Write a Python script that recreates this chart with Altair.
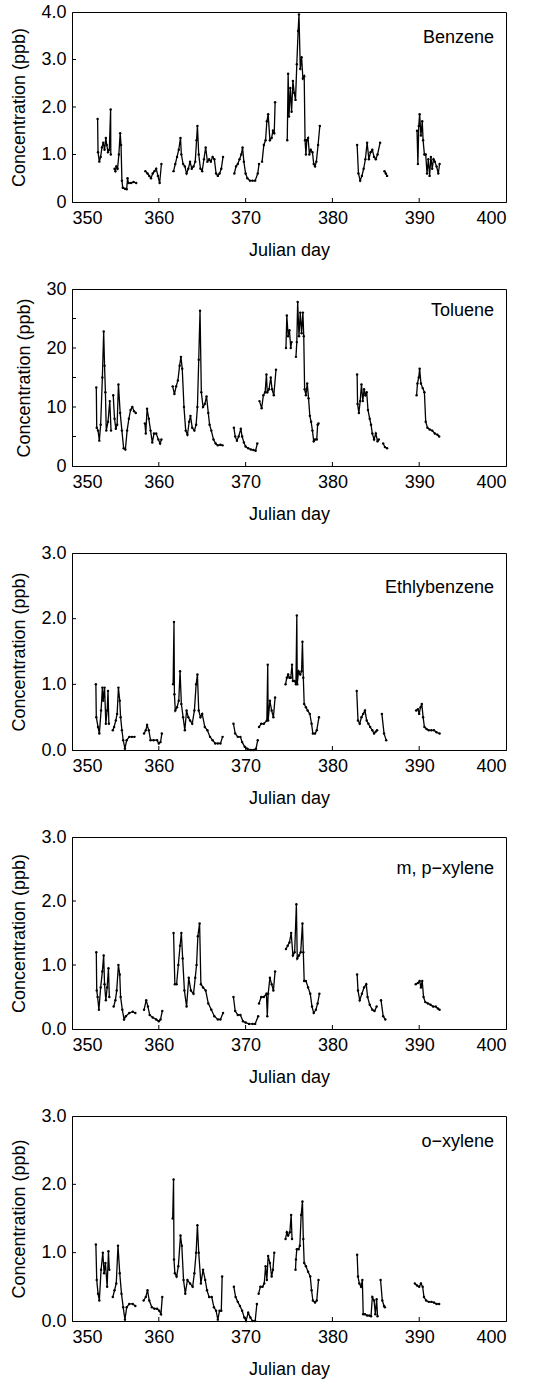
import altair as alt
import pandas as pd

# ---------------- data ----------------
x_ticks = [350, 360, 370, 380, 390, 400]

benzene = [
    [(352.95, 1.75), (353.0, 1.05), (353.15, 0.85), (353.3, 0.95), (353.45, 1.15), (353.6, 1.25),
     (353.75, 1.1), (353.9, 1.35), (354.0, 1.2), (354.15, 1.05), (354.3, 1.1), (354.45, 1.95), (354.47, 1.0)],
    [(354.9, 0.7), (355.0, 0.65), (355.1, 0.75), (355.25, 0.7), (355.4, 1.0), (355.55, 1.45), (355.65, 1.2),
     (355.75, 0.45), (355.85, 0.3), (356.1, 0.28), (356.3, 0.27), (356.4, 0.5), (356.5, 0.4), (356.8, 0.4),
     (357.1, 0.42), (357.4, 0.4)],
    [(358.45, 0.65), (358.7, 0.6), (358.9, 0.55), (359.1, 0.5), (359.3, 0.6), (359.5, 0.65), (359.7, 0.7),
     (359.9, 0.55), (360.1, 0.4), (360.3, 0.8)],
    [(361.7, 0.65), (361.9, 0.8), (362.1, 0.95), (362.3, 1.1), (362.5, 1.35), (362.6, 1.0), (362.8, 0.8),
     (363.0, 0.75), (363.2, 0.6), (363.4, 0.7), (363.6, 0.85), (363.8, 0.7), (364.0, 0.75), (364.2, 0.85),
     (364.35, 1.3), (364.45, 1.6), (364.6, 1.0), (364.8, 0.7), (365.0, 0.65), (365.2, 0.9), (365.4, 1.15),
     (365.6, 0.85), (365.8, 0.9), (366.0, 0.85), (366.2, 0.95), (366.4, 0.9), (366.6, 0.6), (366.8, 0.55),
     (367.0, 0.6), (367.2, 0.7), (367.4, 0.95)],
    [(368.7, 0.6), (368.9, 0.75), (369.1, 0.8), (369.3, 0.9), (369.5, 1.0), (369.65, 1.15), (369.8, 0.85),
     (370.0, 0.6), (370.2, 0.5), (370.5, 0.45), (370.8, 0.45), (371.1, 0.45), (371.4, 0.6), (371.55, 0.8)],
    [(371.9, 0.85), (372.1, 1.2), (372.3, 1.3), (372.45, 1.7), (372.6, 1.85), (372.8, 1.3), (373.0, 1.35),
     (373.15, 1.5), (373.3, 1.45), (373.4, 2.1)],
    [(374.8, 1.3), (374.9, 2.7), (375.0, 1.8), (375.15, 2.4), (375.3, 1.9), (375.45, 2.55), (375.6, 2.3),
     (375.75, 2.15), (375.9, 2.9), (376.05, 3.6), (376.15, 3.95), (376.3, 2.8), (376.45, 3.05), (376.6, 2.6),
     (376.75, 2.65), (376.85, 1.3), (376.95, 1.0), (377.05, 1.3), (377.2, 1.35), (377.35, 1.0), (377.5, 1.1),
     (377.7, 1.05), (377.85, 0.8), (378.0, 0.75), (378.15, 0.85), (378.35, 1.2), (378.55, 1.6)],
    [(382.85, 1.2), (383.0, 0.6), (383.2, 0.45), (383.4, 0.55), (383.6, 0.7), (383.8, 0.9), (384.0, 1.25),
     (384.2, 0.9), (384.4, 1.05), (384.6, 1.1), (384.8, 0.95), (385.0, 0.9), (385.2, 1.0), (385.5, 1.25)],
    [(386.0, 0.65), (386.15, 0.6), (386.3, 0.55)],
    [(389.75, 1.5), (389.85, 0.8), (389.95, 1.6), (390.05, 1.85), (390.2, 1.4), (390.35, 1.7), (390.45, 1.3),
     (390.6, 1.0), (390.75, 1.0), (390.9, 0.6), (391.05, 0.9), (391.2, 0.55), (391.35, 0.95), (391.5, 0.7),
     (391.65, 0.9), (391.8, 0.85), (392.0, 0.75), (392.2, 0.6), (392.35, 0.8)],
]

toluene = [
    [(352.8, 13.3), (352.85, 6.5), (353.0, 6.0), (353.15, 4.3), (353.3, 7.0), (353.5, 15.0), (353.65, 22.8),
     (353.75, 17.0), (353.85, 12.5), (353.95, 6.0), (354.15, 7.5), (354.35, 11.0), (354.5, 6.0)],
    [(354.75, 12.0), (354.9, 8.0), (355.05, 6.3), (355.2, 7.0), (355.35, 13.8), (355.55, 9.0), (355.75, 6.0),
     (355.95, 3.0), (356.15, 2.8), (356.35, 6.0), (356.55, 8.0), (356.75, 9.5), (356.95, 10.0),
     (357.15, 9.3), (357.35, 9.0)],
    [(358.4, 7.2), (358.5, 5.5), (358.65, 9.7), (358.85, 8.0), (359.05, 6.0), (359.25, 4.0), (359.45, 5.5),
     (359.7, 5.5), (359.95, 4.5), (360.15, 3.8), (360.3, 4.5)],
    [(361.6, 13.5), (361.8, 12.2), (362.0, 13.5), (362.2, 14.5), (362.4, 17.0), (362.55, 18.5), (362.7, 16.5),
     (362.9, 10.0), (363.1, 6.0), (363.3, 5.3), (363.5, 7.5), (363.65, 8.5), (363.85, 6.5), (364.1, 6.0),
     (364.3, 7.0), (364.45, 10.0), (364.6, 18.0), (364.75, 26.3), (364.9, 12.5), (365.1, 10.0), (365.3, 10.5),
     (365.5, 11.8), (365.7, 9.0), (365.85, 7.0), (366.05, 6.0), (366.3, 4.5), (366.55, 3.8), (366.8, 3.5),
     (367.1, 3.6), (367.35, 3.5)],
    [(368.65, 6.5), (368.8, 5.0), (369.0, 4.3), (369.2, 5.0), (369.45, 6.3), (369.6, 5.0), (369.8, 4.0),
     (370.0, 3.3), (370.3, 3.0), (370.6, 2.8), (370.9, 2.7), (371.15, 2.6), (371.35, 3.8)],
    [(371.6, 11.0), (371.85, 9.8), (372.05, 12.0), (372.25, 12.5), (372.4, 15.5), (372.5, 12.5), (372.7, 13.0),
     (372.9, 15.0), (373.05, 13.0), (373.25, 12.0), (373.5, 16.3)],
    [(374.65, 20.0), (374.75, 25.5), (374.9, 22.0), (375.05, 23.0), (375.2, 20.0), (375.3, 21.0)],
    [(375.8, 18.5), (375.9, 21.0), (376.0, 27.8), (376.15, 22.0), (376.3, 26.0), (376.45, 22.5), (376.6, 26.0),
     (376.7, 22.0), (376.8, 13.0), (376.95, 12.0), (377.1, 14.0), (377.25, 11.5), (377.4, 8.5), (377.55, 7.5),
     (377.7, 6.0), (377.85, 4.2), (378.0, 4.5), (378.2, 4.5), (378.3, 7.0), (378.4, 7.2)],
    [(382.85, 15.5), (382.9, 10.5), (383.05, 9.0), (383.2, 11.0), (383.35, 13.8), (383.5, 11.0), (383.65, 13.0),
     (383.8, 12.0), (383.95, 12.5), (384.1, 9.5), (384.3, 8.0), (384.45, 7.0), (384.6, 5.5), (384.8, 4.5),
     (385.0, 5.5), (385.2, 4.2), (385.35, 4.5)],
    [(385.85, 3.8), (386.05, 3.2), (386.3, 3.0)],
    [(389.7, 12.0), (389.8, 14.0), (389.95, 15.0), (390.05, 16.5), (390.2, 14.0), (390.4, 13.2), (390.6, 12.5),
     (390.75, 7.5), (390.95, 6.5), (391.2, 6.2), (391.5, 6.0), (391.8, 5.5), (392.1, 5.3), (392.3, 5.0)],
]

ethylbenzene = [
    [(352.75, 1.0), (352.8, 0.5), (353.0, 0.35), (353.15, 0.25), (353.35, 0.6), (353.5, 0.95), (353.6, 0.75),
     (353.75, 0.95), (353.9, 0.4), (354.05, 0.6), (354.15, 0.9), (354.25, 0.4)],
    [(354.7, 0.3), (354.85, 0.35), (355.05, 0.45), (355.2, 0.55), (355.35, 0.95), (355.5, 0.75), (355.6, 0.5),
     (355.75, 0.3), (355.9, 0.15), (356.1, 0.02), (356.3, 0.15), (356.6, 0.2), (356.9, 0.2), (357.2, 0.2)],
    [(358.3, 0.25), (358.5, 0.3), (358.65, 0.38), (358.85, 0.3), (359.05, 0.15), (359.4, 0.15), (359.8, 0.15),
     (360.0, 0.1), (360.2, 0.12), (360.35, 0.25)],
    [(361.65, 1.0), (361.75, 1.95), (361.8, 0.85), (361.9, 0.6), (362.1, 0.65), (362.3, 0.75), (362.45, 1.2),
     (362.6, 0.7), (362.8, 0.5), (363.0, 0.3), (363.2, 0.6), (363.4, 0.5), (363.6, 0.45), (363.85, 0.4),
     (364.1, 0.6), (364.3, 1.0), (364.45, 1.15), (364.6, 0.6), (364.8, 0.5), (365.0, 0.55), (365.3, 0.35),
     (365.6, 0.3), (365.9, 0.2), (366.2, 0.15), (366.5, 0.1), (366.8, 0.1), (367.1, 0.1), (367.35, 0.2)],
    [(368.6, 0.4), (368.8, 0.25), (369.1, 0.2), (369.4, 0.2), (369.6, 0.12), (369.9, 0.05), (370.2, 0.02),
     (370.6, 0.0), (370.9, 0.0), (371.2, 0.02), (371.4, 0.15)],
    [(371.55, 0.35), (371.8, 0.4), (372.1, 0.4), (372.45, 0.45), (372.55, 1.3), (372.6, 0.45), (372.8, 0.75),
     (373.0, 0.6), (373.2, 0.5), (373.4, 0.8)],
    [(374.6, 1.0), (374.75, 1.1), (374.9, 1.15), (375.05, 1.1), (375.2, 1.1), (375.35, 1.3), (375.45, 1.05),
     (375.65, 1.05), (375.8, 1.0), (375.9, 2.05), (375.95, 1.0), (376.1, 1.2), (376.3, 1.15), (376.45, 1.2),
     (376.55, 1.65), (376.65, 1.1), (376.75, 0.7), (376.95, 0.65), (377.15, 0.6), (377.4, 0.55), (377.6, 0.4),
     (377.75, 0.25), (378.0, 0.25), (378.2, 0.3), (378.45, 0.5)],
    [(382.8, 0.9), (382.95, 0.45), (383.15, 0.4), (383.35, 0.5), (383.55, 0.55), (383.75, 0.6), (383.95, 0.45),
     (384.15, 0.4), (384.35, 0.35), (384.6, 0.3), (384.8, 0.25), (385.0, 0.28), (385.15, 0.3)],
    [(385.7, 0.55), (385.95, 0.25), (386.2, 0.15)],
    [(389.65, 0.6), (389.85, 0.62), (390.0, 0.55), (390.15, 0.65), (390.3, 0.7), (390.45, 0.5), (390.6, 0.35),
     (390.85, 0.32), (391.1, 0.3), (391.4, 0.3), (391.7, 0.3), (392.0, 0.27), (392.35, 0.25)],
]

mp_xylene = [
    [(352.8, 1.2), (352.85, 0.6), (352.95, 0.5), (353.1, 0.3), (353.3, 0.65), (353.5, 0.9), (353.65, 1.15),
     (353.75, 0.7), (353.9, 0.45), (354.05, 0.65), (354.2, 0.95), (354.3, 0.5)],
    [(354.8, 0.35), (355.0, 0.45), (355.15, 0.6), (355.35, 1.0), (355.5, 0.85), (355.6, 0.5), (355.8, 0.3),
     (356.0, 0.15), (356.2, 0.2), (356.6, 0.25), (357.0, 0.27), (357.3, 0.25)],
    [(358.3, 0.3), (358.55, 0.45), (358.75, 0.35), (358.95, 0.22), (359.3, 0.18), (359.7, 0.15), (360.0, 0.12),
     (360.2, 0.15), (360.4, 0.28)],
    [(361.7, 1.5), (361.85, 0.7), (362.05, 0.7), (362.25, 1.0), (362.45, 1.3), (362.6, 1.5), (362.75, 1.1),
     (362.95, 0.6), (363.2, 0.35), (363.45, 0.8), (363.7, 0.6), (364.0, 0.55), (364.2, 0.8), (364.35, 1.0),
     (364.5, 1.45), (364.7, 1.65), (364.85, 0.7), (365.1, 0.65), (365.4, 0.6), (365.7, 0.4), (366.05, 0.3),
     (366.4, 0.2), (366.8, 0.15), (367.1, 0.15), (367.4, 0.25)],
    [(368.6, 0.5), (368.8, 0.28), (369.1, 0.22), (369.4, 0.22), (369.7, 0.12), (370.0, 0.1), (370.4, 0.08),
     (370.8, 0.08), (371.1, 0.08), (371.45, 0.2)],
    [(371.55, 0.4), (371.8, 0.5), (372.1, 0.5), (372.4, 0.55), (372.5, 0.2), (372.6, 0.55), (372.8, 0.8),
     (373.0, 0.7), (373.2, 0.6), (373.4, 0.9)],
    [(374.65, 1.25), (374.85, 1.3), (375.05, 1.35), (375.25, 1.5), (375.45, 1.15), (375.65, 1.2), (375.85, 1.95),
     (375.95, 1.1), (376.15, 1.15), (376.35, 1.2), (376.55, 1.65), (376.65, 1.2), (376.75, 0.75), (376.95, 0.75),
     (377.2, 0.65), (377.45, 0.55), (377.65, 0.35), (377.85, 0.25), (378.1, 0.3), (378.3, 0.4), (378.5, 0.55)],
    [(382.85, 0.85), (382.95, 0.6), (383.15, 0.45), (383.4, 0.55), (383.65, 0.65), (383.9, 0.7), (384.05, 0.5),
     (384.3, 0.38), (384.6, 0.3), (384.85, 0.28), (385.1, 0.35)],
    [(385.6, 0.45), (385.85, 0.2), (386.1, 0.15)],
    [(389.6, 0.7), (389.85, 0.72), (390.05, 0.75), (390.2, 0.65), (390.35, 0.75), (390.5, 0.5), (390.7, 0.42),
     (391.0, 0.4), (391.3, 0.38), (391.6, 0.35), (391.9, 0.35), (392.15, 0.32), (392.35, 0.3)],
]

o_xylene = [
    [(352.75, 1.12), (352.85, 0.6), (353.0, 0.4), (353.15, 0.3), (353.35, 0.75), (353.55, 1.0), (353.7, 0.7),
     (353.85, 0.85), (354.05, 0.5), (354.2, 1.02), (354.3, 0.75)],
    [(354.7, 0.35), (354.9, 0.45), (355.1, 0.55), (355.3, 1.1), (355.5, 0.7), (355.7, 0.4), (355.9, 0.2),
     (356.1, 0.02), (356.3, 0.2), (356.6, 0.25), (357.0, 0.25), (357.3, 0.22)],
    [(358.25, 0.3), (358.5, 0.35), (358.7, 0.45), (358.9, 0.3), (359.2, 0.2), (359.5, 0.18), (359.8, 0.18),
     (360.05, 0.15), (360.25, 0.1), (360.4, 0.35)],
    [(361.6, 1.5), (361.7, 2.07), (361.75, 0.9), (361.85, 0.7), (362.05, 0.65), (362.25, 0.8), (362.5, 1.25),
     (362.65, 1.1), (362.85, 0.6), (363.05, 0.4), (363.3, 0.6), (363.6, 0.55), (363.9, 0.5), (364.1, 0.7),
     (364.3, 1.0), (364.45, 1.4), (364.6, 1.0), (364.85, 0.55), (365.1, 0.75), (365.35, 0.6), (365.55, 0.45),
     (365.8, 0.35), (366.1, 0.35), (366.35, 0.2), (366.6, 0.15), (366.8, 0.02), (367.0, 0.15), (367.2, 0.15),
     (367.3, 0.65)],
    [(368.65, 0.5), (368.85, 0.35), (369.1, 0.28), (369.35, 0.22), (369.6, 0.15), (369.85, 0.05), (370.05, 0.0),
     (370.3, 0.12), (370.55, 0.05), (370.8, 0.0), (371.1, 0.0), (371.3, 0.25)],
    [(371.5, 0.4), (371.7, 0.5), (371.95, 0.5), (372.15, 0.55), (372.3, 0.8), (372.45, 0.6), (372.6, 0.95),
     (372.8, 0.85), (373.0, 0.65), (373.15, 0.75), (373.3, 1.0)],
    [(374.6, 1.2), (374.75, 1.3), (374.9, 1.25), (375.1, 1.3), (375.25, 1.55), (375.35, 1.2)],
    [(375.75, 0.75), (375.8, 0.9), (375.9, 1.05), (376.1, 1.05), (376.25, 1.1), (376.4, 1.55), (376.55, 1.75),
     (376.65, 1.2), (376.75, 0.85), (376.95, 0.8), (377.2, 0.72), (377.45, 0.65), (377.6, 0.45), (377.75, 0.3),
     (378.0, 0.27), (378.2, 0.3), (378.4, 0.6)],
    [(382.85, 0.97), (382.95, 0.65), (383.1, 0.55), (383.3, 0.5), (383.45, 0.6), (383.55, 0.1), (383.75, 0.1),
     (384.0, 0.08), (384.25, 0.08), (384.45, 0.07), (384.6, 0.35), (384.8, 0.3), (384.95, 0.1), (385.1, 0.32),
     (385.2, 0.07)],
    [(385.55, 0.6), (385.75, 0.3), (385.95, 0.22), (386.05, 0.2)],
    [(389.5, 0.55), (389.75, 0.52), (390.0, 0.5), (390.2, 0.55), (390.4, 0.5), (390.55, 0.35), (390.8, 0.3),
     (391.1, 0.28), (391.4, 0.28), (391.7, 0.27), (392.0, 0.25), (392.3, 0.25)],
]

names = ["Benzene", "Toluene", "Ethlybenzene", "m, p\u2212xylene", "o\u2212xylene"]
series = [benzene, toluene, ethylbenzene, mp_xylene, o_xylene]
y_max = [4, 30, 3, 3, 3]
y_ticks = [[0, 1, 2, 3, 4], [0, 5, 10, 15, 20, 25, 30], [0, 1, 2, 3], [0, 1, 2, 3], [0, 1, 2, 3]]
y_label_expr = [
    "datum.value == 0 ? '0' : format(datum.value, '.1f')",
    "format(datum.value, 'd')",
    "format(datum.value, '.1f')",
    "format(datum.value, '.1f')",
    "format(datum.value, '.1f')",
]

# ---------------- layout / style ----------------
W = 434
heights = [190, 177, 197, 192, 205]
label_y = [31, 27, 40, 37, 31]
FONT = "Liberation Sans"
FS = 18
TICK = 4


def to_frame(segments):
    rows = []
    for i, seg in enumerate(segments):
        for d, v in seg:
            rows.append({"day": d, "ppb": v, "seg": i})
    return pd.DataFrame(rows)


def panel(k):
    H = heights[k]
    df = to_frame(series[k])
    xs = alt.Scale(domain=[350, 400], nice=False, zero=False)
    ys = alt.Scale(domain=[0, y_max[k]], nice=False)
    x_enc = alt.X("day:Q", scale=xs, axis=alt.Axis(
        values=x_ticks, title="Julian day", ticks=False, labelPadding=7, titlePadding=14,
        format="d", grid=False))
    y_enc = alt.Y("ppb:Q", scale=ys, axis=alt.Axis(
        values=y_ticks[k], title="Concentration (ppb)", ticks=False, labelPadding=6,
        titlePadding=12, labelExpr=y_label_expr[k], grid=False))

    base = alt.Chart(df)
    line = base.mark_line(color="black", strokeWidth=1.3).encode(
        x=x_enc, y=y_enc, detail="seg:N", order="day:Q")
    pts = base.mark_circle(color="black", size=6, opacity=1).encode(x="day:Q", y="ppb:Q")

    xt = pd.DataFrame({"day": x_ticks[1:-1]})
    xtick = alt.Chart(xt).mark_rule(color="black", strokeWidth=1).encode(
        x="day:Q", y=alt.value(H), y2=alt.value(H - TICK))
    yt = pd.DataFrame({"ppb": y_ticks[k][1:-1]})
    ytick = alt.Chart(yt).mark_rule(color="black", strokeWidth=1).encode(
        y="ppb:Q", x=alt.value(0), x2=alt.value(TICK))

    lab = alt.Chart(pd.DataFrame({"name": [names[k]]})).mark_text(
        align="right", baseline="alphabetic", font=FONT, fontSize=18, color="black").encode(
        text="name:N", x=alt.value(W - 12), y=alt.value(label_y[k]))

    return alt.layer(line, pts, xtick, ytick, lab).properties(width=W, height=H)


chart = alt.vconcat(*[panel(k) for k in range(5)], spacing=19).properties(
    padding={"top": 2, "left": 10, "right": 5, "bottom": 5},
    background="white",
).configure_view(
    stroke="black", strokeWidth=1
).configure_axis(
    grid=False, domainColor="black", domainWidth=1,
    labelFont=FONT, labelFontSize=FS, labelColor="black",
    titleFont=FONT, titleFontSize=FS, titleFontWeight="normal", titleColor="black",
)

chart.save("out.html", embed_options={"renderer": "svg", "actions": False})
